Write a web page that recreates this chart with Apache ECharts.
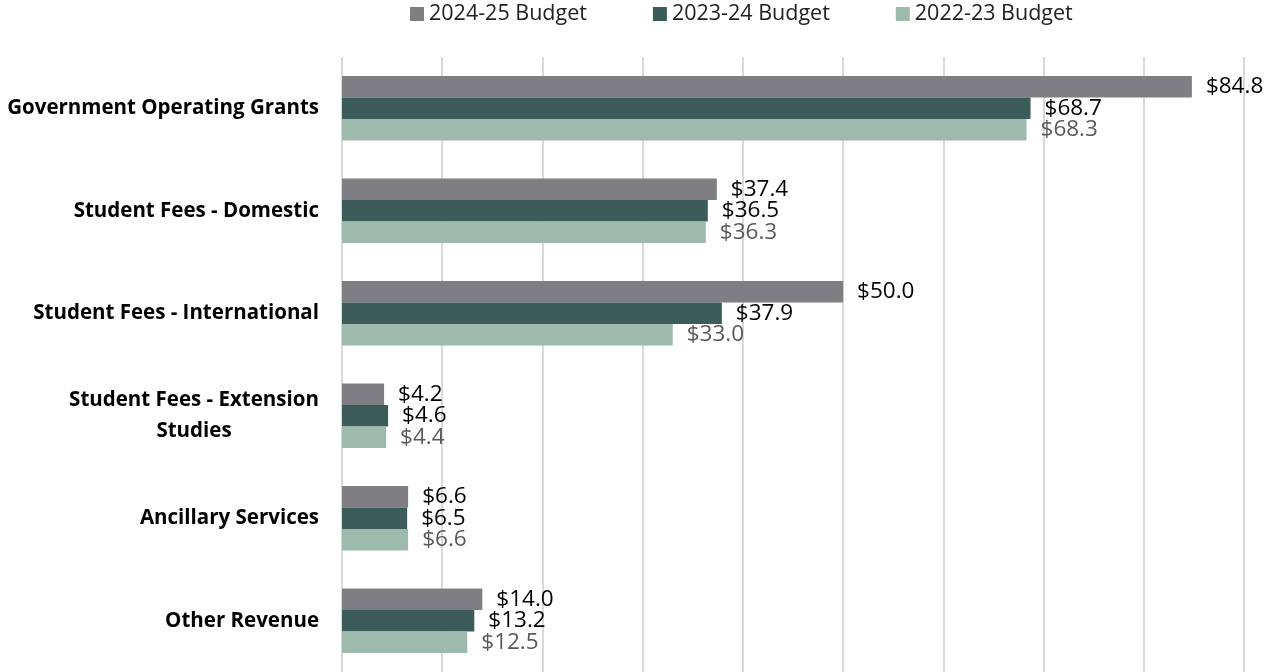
<!DOCTYPE html>
<html>
<head>
<meta charset="utf-8">
<script src="https://cdn.jsdelivr.net/npm/echarts@6/dist/echarts.min.js"></script>
<style>html,body{margin:0;padding:0;background:#fff;}#c{width:1267px;height:672px;}</style>
</head>
<body>
<div id="c"></div>
<script>
const categories = ['Government Operating Grants', 'Student Fees - Domestic', 'Student Fees - International', 'Student Fees - Extension Studies', 'Ancillary Services', 'Other Revenue'];
const seriesNames = ['2024-25 Budget', '2023-24 Budget', '2022-23 Budget'];
const budget2425 = [84.8, 37.4, 50.0, 4.2, 6.6, 14.0];
const budget2324 = [68.7, 36.5, 37.9, 4.6, 6.5, 13.2];
const budget2223 = [68.3, 36.3, 33.0, 4.4, 6.6, 12.5];

const FONT = '"Open Sans", Lato, sans-serif';
const colors = ['#7f7e83', '#3b5c59', '#9dbaac'];
const labelColors = ['#000000', '#000000', '#595959'];
const dataSets = [budget2425, budget2324, budget2223];

const chart = echarts.init(document.getElementById('c'), null, {renderer: 'canvas'});
chart.setOption({
  animation: false,
  legend: {
    top: -2, left: 405,
    itemWidth: 14, itemHeight: 14, itemGap: 66,
    icon: 'rect',
    textStyle: {fontFamily: FONT, fontSize: 21.5, color: '#222'},
    data: seriesNames
  },
  grid: {left: 342, right: 23, top: 57, bottom: 0, containLabel: false},
  xAxis: {
    type: 'value', min: 0, max: 90, interval: 10,
    axisLabel: {show: false}, axisLine: {show: false}, axisTick: {show: false},
    splitLine: {show: true, lineStyle: {color: '#d9d9d9', width: 2}}
  },
  yAxis: {
    type: 'category', inverse: true, data: categories,
    axisLine: {show: false}, axisTick: {show: false},
    axisLabel: {
      margin: 23,
      fontFamily: FONT, fontSize: 20.5, fontWeight: 'bold', color: '#000',
      formatter: function (v) {
        if (v === 'Student Fees - Extension Studies') {
          return '{e|Student Fees - Extension}\n{e|Studies}';
        }
        return v;
      },
      rich: {
        e: {width: 250, align: 'center', fontFamily: FONT, fontSize: 20.5, fontWeight: 'bold', color: '#000', lineHeight: 31}
      }
    }
  },
  series: seriesNames.map((name, i) => ({
    name: name, type: 'bar', data: dataSets[i],
    barGap: '0%', barCategoryGap: '37%',
    itemStyle: {color: colors[i]},
    label: {
      show: true, position: 'right', distance: 14,
      fontFamily: FONT, fontSize: 22.5, color: labelColors[i],
      formatter: p => '$' + p.value.toFixed(1)
    }
  }))
});
</script>
</body>
</html>
